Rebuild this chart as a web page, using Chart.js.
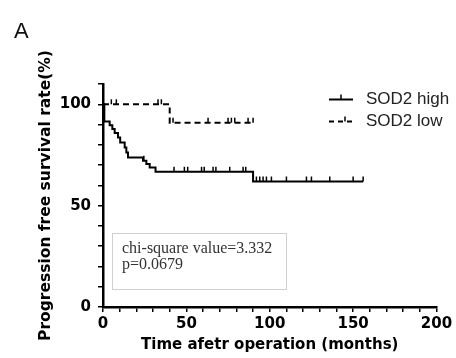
<!DOCTYPE html>
<html>
<head>
<meta charset="utf-8">
<script src="https://cdn.jsdelivr.net/npm/chart.js@4.4.1/dist/chart.umd.min.js"></script>
<style>
  html, body { margin: 0; padding: 0; background: #fff; }
  #wrap { width: 456px; height: 358px; }
</style>
</head>
<body>
<div id="wrap"><canvas id="kmChart" width="456" height="358"></canvas></div>
<script>
// ===== DATA =====
const seriesNames = ["SOD2 high", "SOD2 low"];

// SOD2 high: step times (months) and survival (%) after each step
const highTimes = [0, 0.8, 4, 5.6, 7, 9, 10.3, 13, 14, 15, 24, 26, 28, 31.5, 90, 156];
const highSurv  = [100, 91.5, 89.7, 87.8, 85.8, 83.6, 81.2, 78.7, 76.2, 73.8, 72.1, 70.5, 68.8, 66.7, 61.9, 61.9];
const highCensor = [24.5, 42.6, 48.8, 50.8, 59.1, 60.7, 66, 67.7, 76, 84, 85.6,
                    92, 94, 96, 98, 101, 110, 122, 125, 136, 150, 156];

// SOD2 low
const lowTimes = [0, 40, 90];
const lowSurv  = [100, 90.9, 90.9];
const lowCensor = [5, 8, 33, 35, 42, 63, 75, 77, 79, 87, 90];

const xLabelTicks = [0, 50, 100, 150, 200];
const yLabelTicks = [0, 50, 100];

const statLines = ["chi-square value=3.332", "p=0.0679"];

// ===== HELPERS =====
const SANS = "'DejaVu Sans', Arial, sans-serif";

function toPoints(times, surv) {
    return times.map((t, i) => ({ x: t, y: surv[i] }));
}

// survival value of a step curve at time t
function survAt(times, surv, t) {
    let s = surv[0];
    for (let i = 0; i < times.length; i++) {
        if (times[i] <= t) s = surv[i];
    }
    return s;
}

// ===== EXTRA DRAWING (censor marks, legend, panel letter, stats box) =====
const kmExtras = {
    id: "kmExtras",
    afterDatasetsDraw(chart) {
        const { ctx, scales: { x, y } } = chart;
        ctx.save();

        // censor ticks
        ctx.strokeStyle = "#000";
        ctx.lineWidth = 1.5;
        const drawCensor = (times, surv, marks) => {
            marks.forEach(t => {
                const px = x.getPixelForValue(t);
                const py = y.getPixelForValue(survAt(times, surv, t));
                ctx.beginPath();
                ctx.moveTo(px, py);
                ctx.lineTo(px, py - 5);
                ctx.stroke();
            });
        };
        drawCensor(highTimes, highSurv, highCensor);
        drawCensor(lowTimes, lowSurv, lowCensor);

        // panel letter
        ctx.fillStyle = "#111";
        ctx.font = "22px 'Liberation Sans', Arial, sans-serif";
        ctx.textBaseline = "alphabetic";
        ctx.textAlign = "left";
        ctx.fillText("A", 14, 38);

        // legend
        ctx.lineWidth = 2;
        ctx.beginPath();
        ctx.moveTo(329, 99.5);
        ctx.lineTo(353, 99.5);
        ctx.stroke();
        ctx.lineWidth = 1.5;
        ctx.beginPath();
        ctx.moveTo(341, 99.5);
        ctx.lineTo(341, 94.5);
        ctx.stroke();

        ctx.lineWidth = 2;
        ctx.setLineDash([5, 4]);
        ctx.beginPath();
        ctx.moveTo(329, 121.5);
        ctx.lineTo(354, 121.5);
        ctx.stroke();
        ctx.setLineDash([]);
        ctx.lineWidth = 1.5;
        ctx.beginPath();
        ctx.moveTo(345, 121.5);
        ctx.lineTo(345, 116.5);
        ctx.stroke();

        ctx.font = "17px 'Liberation Sans', Arial, sans-serif";
        ctx.textBaseline = "middle";
        ctx.fillStyle = "#222";
        ctx.fillText(seriesNames[0], 366, 99.5);
        ctx.fillText(seriesNames[1], 366, 121.5);

        // stats box
        ctx.fillStyle = "#fff";
        ctx.fillRect(112, 233, 174, 56);
        ctx.strokeStyle = "#cfcfcf";
        ctx.lineWidth = 1;
        ctx.strokeRect(112.5, 233.5, 174, 56);
        ctx.fillStyle = "#333";
        ctx.font = "16px 'Liberation Serif', 'Times New Roman', serif";
        ctx.fillText(statLines[0], 122, 249);
        ctx.fillText(statLines[1], 122, 265);

        ctx.restore();
    }
};

// ===== CHART =====
const ctx = document.getElementById("kmChart").getContext("2d");
const kmChart = new Chart(ctx, {
    type: "line",
    data: {
        datasets: [{
            label: seriesNames[0],
            data: toPoints(highTimes, highSurv),
            stepped: true,
            borderColor: "#000",
            borderWidth: 2,
            pointRadius: 0,
            fill: false
        }, {
            label: seriesNames[1],
            data: toPoints(lowTimes, lowSurv),
            stepped: true,
            borderColor: "#000",
            borderWidth: 2,
            borderDash: [6, 4],
            pointRadius: 0,
            fill: false
        }]
    },
    options: {
        responsive: false,
        animation: false,
        layout: { padding: { top: 84, right: 19.5, bottom: 0, left: 0 } },
        plugins: {
            legend: { display: false },
            tooltip: { enabled: false }
        },
        scales: {
            x: {
                type: "linear",
                min: 0,
                max: 200,
                afterFit: scale => { scale.height = 51; },
                ticks: {
                    stepSize: 10,
                    autoSkip: false,
                    maxRotation: 0,
                    padding: 3,
                    color: "#000",
                    font: { family: SANS, size: 15, weight: "bold" },
                    callback: v => xLabelTicks.includes(v) ? v : ""
                },
                grid: { drawOnChartArea: false, tickLength: 5, color: "#000", lineWidth: 1.5 },
                border: { color: "#000", width: 2.5 },
                title: {
                    display: true,
                    text: "Time afetr operation (months)",
                    color: "#000",
                    font: { family: SANS, size: 15, weight: "bold" },
                    padding: { top: 0, bottom: 4 }
                }
            },
            y: {
                min: 0,
                max: 110,
                afterFit: scale => { scale.width = 103; },
                ticks: {
                    stepSize: 10,
                    autoSkip: false,
                    padding: 7,
                    color: "#000",
                    font: { family: SANS, size: 15, weight: "bold" },
                    callback: v => yLabelTicks.includes(v) ? v : ""
                },
                grid: { drawOnChartArea: false, tickLength: 5, color: "#000", lineWidth: 1.5 },
                border: { color: "#000", width: 2.5 },
                title: {
                    display: true,
                    text: "Progression free survival rate(%)",
                    color: "#000",
                    font: { family: SANS, size: 15.5, weight: "bold" },
                    padding: { top: 37, bottom: 0 }
                }
            }
        }
    },
    plugins: [kmExtras]
});
</script>
</body>
</html>
